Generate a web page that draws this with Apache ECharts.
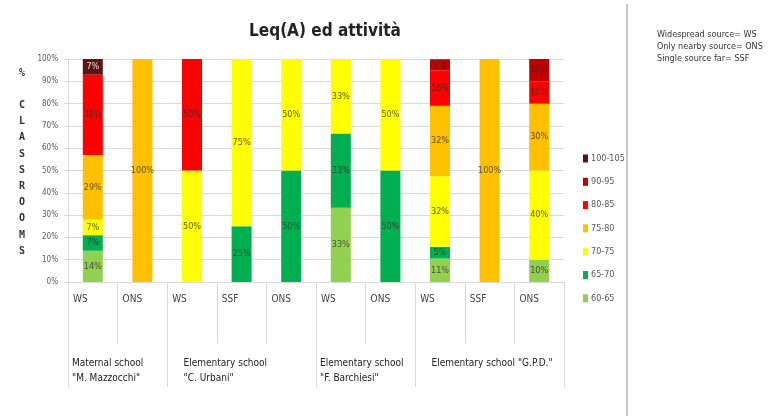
<!DOCTYPE html>
<html>
<head>
<meta charset="utf-8">
<script src="https://cdn.jsdelivr.net/npm/echarts@6/dist/echarts.min.js"></script>
<style>
  html, body { margin: 0; padding: 0; background: #fff; }
  #chart { width: 775px; height: 419px; }
</style>
</head>
<body>
<div id="chart"></div>
<script>
// one entry per bar, left to right
const sources = ['WS', 'ONS', 'WS', 'SSF', 'ONS', 'WS', 'ONS', 'WS', 'SSF', 'ONS'];
const schools = ['Maternal school\n"M. Mazzocchi"', 'Elementary school\n"C. Urbani"',
                 'Elementary school\n"F. Barchiesi"', 'Elementary school "G.P.D."'];
const schoolStart = [0, 2, 5, 7];           // first bar of each school
const schoolLabelAt = [0, 2.25, 5, 7.25];   // where each school name starts
const yTicks = [0, 10, 20, 30, 40, 50, 60, 70, 80, 90, 100];

// % of classrooms per Leq band (dB(A))
const band60 = [14, null, null, null, null, 33.3, null, 10.5, null, 10];
const band65 = [7, null, null, 25, 50, 33.3, 50, 5.3, null, null];
const band70 = [7, null, 50, 75, 50, 33.3, 50, 31.6, null, 40];
const band75 = [29, 100, null, null, null, null, null, 31.6, 100, 30];
const band80 = [36, null, 50, null, null, null, null, 15.8, null, 10];
const band90 = [null, null, null, null, null, null, null, 5.1, null, 10];
const band100 = [7, null, null, null, null, null, null, null, null, null];

const narrow = '"Liberation Sans Narrow", "DejaVu Sans Condensed", "Liberation Sans", sans-serif';

let myChart = echarts.init(document.getElementById('chart'));

let bands = [
    {name: '60-65', data: band60, color: '#92d050'},
    {name: '65-70', data: band65, color: '#00b050'},
    {name: '70-75', data: band70, color: '#ffff00'},
    {name: '75-80', data: band75, color: '#ffc000'},
    {name: '80-85', data: band80, color: '#ff0000'},
    {name: '90-95', data: band90, color: '#c00000'},
    {name: '100-105', data: band100, color: '#5c1414'}
];

let series = bands.map(function (b) {
    return {
        name: b.name,
        type: 'bar',
        stack: 'all',
        barWidth: 20,
        data: b.data,
        itemStyle: {color: b.color},
        label: {
            show: true,
            position: 'inside',
            fontFamily: narrow,
            fontSize: 9,
            color: b.name === '100-105' ? '#e8d8d8' : 'rgba(50,50,50,0.8)',
            formatter: function (p) { return Math.round(p.value) + '%'; }
        }
    };
});

let grid = {left: 68, right: 211, top: 59, bottom: 137};

let options = {
    animation: false,
    backgroundColor: '#fff',
    title: [{
        text: 'Leq(A) ed attività',
        left: 320,
        top: 18,
        textAlign: 'center',
        textStyle: {fontFamily: narrow, fontSize: 17, fontWeight: 'bold', color: '#222'}
    }, {
        text: '%\n\nC\nL\nA\nS\nS\nR\nO\nO\nM\nS',
        left: 17,
        top: 60,
        textAlign: 'center',
        textStyle: {fontFamily: '"DejaVu Sans Mono", monospace', fontSize: 10, fontWeight: 'bold',
                    color: '#333', lineHeight: 16.2}
    }, {
        text: 'Widespread source= WS\nOnly nearby source= ONS\nSingle source far= SSF',
        left: 652,
        top: 24,
        textStyle: {fontFamily: narrow, fontSize: 9, fontWeight: 'normal', color: '#333', lineHeight: 12}
    }],
    legend: {
        orient: 'vertical',
        left: 578,
        top: 149,
        itemGap: 14.3,
        itemWidth: 5,
        itemHeight: 8,
        icon: 'rect',
        data: ['100-105', '90-95', '80-85', '75-80', '70-75', '65-70', '60-65'],
        textStyle: {fontFamily: narrow, fontSize: 9, color: '#595959', padding: [0, 0, 0, -2]}
    },
    grid: [grid, grid, grid],
    xAxis: [{
        // the bars, and the long separators between schools
        type: 'category',
        gridIndex: 0,
        data: sources,
        axisLine: {show: true, lineStyle: {color: '#d9d9d9'}},
        axisLabel: {show: false},
        axisTick: {
            show: true,
            length: 105,
            lineStyle: {color: '#d9d9d9'},
            interval: function (i) { return schoolStart.indexOf(i) >= 0; }
        }
    }, {
        // source labels and the short separators
        type: 'value',
        gridIndex: 1,
        min: 0, max: 10, interval: 1,
        splitLine: {show: false},
        axisLine: {show: false},
        axisTick: {show: true, length: 61, lineStyle: {color: '#d9d9d9'}},
        axisLabel: {
            align: 'left',
            margin: 12,
            padding: [0, 0, 0, 5],
            fontFamily: narrow,
            fontSize: 10,
            color: '#404040',
            formatter: function (v) { return sources[v] || ''; }
        }
    }, {
        // school names
        type: 'value',
        gridIndex: 2,
        min: 0, max: 10, interval: 0.25,
        splitLine: {show: false},
        axisLine: {show: false},
        axisTick: {show: false},
        axisLabel: {
            align: 'left',
            margin: 74,
            padding: [0, 0, 0, 4],
            fontFamily: narrow,
            fontSize: 10,
            lineHeight: 15,
            color: '#222',
            formatter: function (v) {
                let k = schoolLabelAt.indexOf(v);
                return k >= 0 ? schools[k] : '';
            }
        }
    }],
    yAxis: [{
        type: 'value',
        gridIndex: 0,
        min: 0, max: 100, interval: 10,
        axisLine: {show: true, lineStyle: {color: '#d9d9d9'}},
        axisTick: {show: true, length: 4, lineStyle: {color: '#d9d9d9'}},
        splitLine: {lineStyle: {color: '#d9d9d9'}},
        axisLabel: {
            margin: 10,
            fontFamily: narrow,
            fontSize: 8,
            color: '#595959',
            formatter: function (v) { return yTicks.indexOf(v) >= 0 ? v + '%' : ''; }
        }
    }, {
        type: 'value', gridIndex: 1, show: false
    }, {
        type: 'value', gridIndex: 2, show: false
    }],
    graphic: [{
        type: 'line',
        shape: {x1: 627, y1: 4, x2: 627, y2: 416},
        style: {stroke: '#c8c8c8', lineWidth: 2}
    }],
    series: series
};

myChart.setOption(options);
</script>
</body>
</html>
